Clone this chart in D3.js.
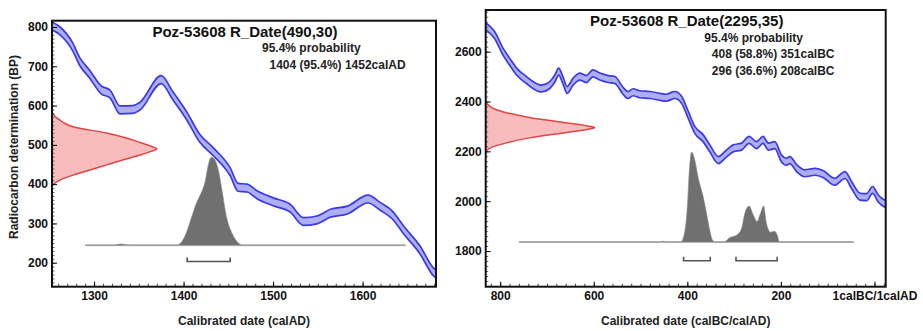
<!DOCTYPE html>
<html>
<head>
<meta charset="utf-8">
<script src="https://cdn.jsdelivr.net/npm/d3@7"></script>
<style>
  body { margin: 0; background: #fff; }
  svg { font-family: "Liberation Sans", Arial, sans-serif; }
  .tick text { font-size: 12px; font-weight: bold; fill: #111; }
</style>
</head>
<body>
<div id="chart"></div>
<script>
"use strict";

//---------------------------------------------------
/* data */

// calibration curve, [calendar year, BP]  (left: calAD)
const leftCurve = [[1253,803],[1262,790],[1276,750],[1284,712],[1295,680],[1308,640],[1318,629],[1329,589],[1343,590],[1351,598],[1375,666],[1388,625],[1404,572],[1418,517],[1433,483],[1452,432],[1461,392],[1471,390],[1482,373],[1500,355],[1519,339],[1534,305],[1549,309],[1564,326],[1583,334],[1606,362],[1620,343],[1633,322],[1646,283],[1664,233],[1679,177],[1683,169]];
const leftCurveErr = 10;

// right panel, year < 0 is calBC
const rightCurve = [[-831,2702],[-812,2667],[-794,2600],[-780,2560],[-765,2520],[-744,2486],[-730,2466],[-712,2452],[-694,2466],[-683,2493],[-675,2520],[-666,2486],[-657,2446],[-644,2480],[-630,2500],[-616,2490],[-602,2513],[-587,2500],[-569,2490],[-555,2486],[-537,2442],[-527,2426],[-516,2437],[-502,2429],[-480,2426],[-459,2419],[-445,2415],[-427,2426],[-412,2406],[-398,2346],[-384,2286],[-366,2252],[-352,2212],[-334,2165],[-316,2192],[-302,2212],[-284,2219],[-268,2246],[-252,2225],[-238,2246],[-227,2219],[-213,2225],[-199,2172],[-188,2158],[-181,2165],[-166,2132],[-149,2112],[-127,2118],[-110,2109],[-85,2078],[-63,2105],[-49,2065],[-31,2018],[-17,2016],[-4,2045],[8,2011],[24,1988]];
const rightCurveErr = 14;

// radiocarbon measurement (red), [BP, relative height]
const leftMeasure = [[396,0],[400,0.015],[411,0.08],[423,0.2],[436,0.36],[449,0.52],[462,0.68],[474,0.84],[484,0.95],[490,1],[496,0.95],[506,0.84],[518,0.7],[530,0.52],[546,0.2],[555,0.12],[563,0.076],[572,0.03],[584,0]];
const rightMeasure = [[2192,0],[2203,0.01],[2219,0.07],[2234,0.19],[2254,0.4],[2274,0.71],[2288,0.93],[2295,1],[2302,0.93],[2316,0.71],[2336,0.4],[2355,0.19],[2372,0.07],[2390,0.015],[2402,0]];

// calibrated distribution (grey), [year, relative height]
const leftPosterior = [[1290,0],[1320,0],[1330,0.015],[1340,0],[1392,0],[1398,0.04],[1403,0.14],[1409,0.32],[1414,0.47],[1419,0.58],[1424,0.72],[1428,0.93],[1431,1.0],[1435,0.97],[1439,0.85],[1443,0.62],[1448,0.32],[1454,0.14],[1460,0.04],[1466,0],[1648,0]];
const rightPosterior = [[-760,0],[-460,0],[-452,0.01],[-444,0],[-414,0],[-405,0.13],[-400,0.39],[-396,0.77],[-391,1.0],[-384,0.91],[-377,0.72],[-366,0.5],[-359,0.32],[-352,0.13],[-346,0.02],[-340,0],[-322,0],[-309,0.05],[-294,0.08],[-284,0.15],[-277,0.32],[-268,0.40],[-259,0.30],[-251,0.23],[-243,0.33],[-237,0.40],[-231,0.21],[-222,0.11],[-214,0.12],[-208,0.08],[-203,0],[-44,0]];

// 95.4% ranges
const leftRanges = [[1404,1452]];
const rightRanges = [[-408,-351],[-296,-208]];

// tick values
const leftXTicks = [1300,1400,1500,1600];
const leftYTicks = [200,300,400,500,600,700,800];
const rightXTicks = [-800,-600,-400,-200,0];
const rightYTicks = [1800,2000,2200,2400,2600];

// texts
const leftTitle = "Poz-53608 R_Date(490,30)";
const rightTitle = "Poz-53608 R_Date(2295,35)";
const leftProb = ["95.4% probability", "1404 (95.4%) 1452calAD"];
const rightProb = ["95.4% probability", "408 (58.8%) 351calBC", "296 (36.6%) 208calBC"];

//---------------------------------------------------
/* styles */
const w = 923;
const h = 331;
const blueStroke = "#3a3ae4";
const blueFill = "#aeaef3";
const redStroke = "#e04545";
const redFill = "#f9bcbc";
const greyFill = "#707070";

const svg = d3.select("#chart")
  .append("svg")
  .attr("width", w)
  .attr("height", h);

svg.append("rect").attr("width", w).attr("height", h).attr("fill", "#fff");

const panels = [
  {
    id: "l",
    box: {x0: 52, x1: 436, y0: 20.7, y1: 286.7},
    xDomain: [1253, 1682], yDomain: [139, 816],
    curve: leftCurve, err: leftCurveErr,
    measure: leftMeasure, measureWidth: 105,
    posterior: leftPosterior, postBase: 244.5, postHeight: 88,
    ranges: leftRanges, rangeBP: 203,
    xTicks: leftXTicks, xMinor: d3.range(1260, 1681, 10),
    yTicks: leftYTicks, yMinor: d3.range(140, 816, 10),
    xFormat: d => d,
    title: leftTitle, prob: leftProb, probX: 210,
    xLabel: "Calibrated date (calAD)"
  },
  {
    id: "r",
    box: {x0: 485.7, x1: 885.7, y0: 10, y1: 286.7},
    xDomain: [-831, 24], yDomain: [1657, 2767],
    curve: rightCurve, err: rightCurveErr,
    measure: rightMeasure, measureWidth: 109,
    posterior: rightPosterior, postBase: 1836, postHeight: 90,
    ranges: rightRanges, rangeBP: 1761,
    xTicks: rightXTicks, xMinor: d3.range(-820, 21, 20),
    yTicks: rightYTicks, yMinor: d3.range(1660, 2767, 20),
    xFormat: d => d === 0 ? "1calBC/1calAD" : Math.abs(d),
    title: rightTitle, prob: rightProb, probX: 218.6,
    xLabel: "Calibrated date (calBC/calAD)"
  }
];

panels.forEach(drawPanel);

// y axis title only on the left panel
svg.append("text")
  .attr("transform", "translate(17.5,147) rotate(-90)")
  .attr("text-anchor", "middle")
  .style("font-size", "12px")
  .style("font-weight", "bold")
  .style("fill", "#222")
  .text("Radiocarbon determination (BP)");

//---------------------------------------------------
function drawPanel(p) {
  const b = p.box;
  const xScale = d3.scaleLinear().domain(p.xDomain).range([b.x0, b.x1]);
  const yScale = d3.scaleLinear().domain(p.yDomain).range([b.y1, b.y0]);
  const measureScale = d3.scaleLinear().domain([0, 1]).range([b.x0, b.x0 + p.measureWidth]);
  const postScale = d3.scaleLinear().domain([0, 1]).range([yScale(p.postBase), yScale(p.postBase) - p.postHeight]);

  svg.append("clipPath")
    .attr("id", "clip-" + p.id)
    .append("rect")
    .attr("x", b.x0).attr("y", b.y0)
    .attr("width", b.x1 - b.x0).attr("height", b.y1 - b.y0);

  const g = svg.append("g").attr("clip-path", `url(#clip-${p.id})`);

  /* red measurement on the y axis */
  g.append("path")
    .datum(p.measure)
    .attr("d", d3.area()
      .curve(d3.curveMonotoneY)
      .y(d => yScale(d[0]))
      .x0(b.x0)
      .x1(d => measureScale(d[1])))
    .attr("fill", redFill);
  g.append("path")
    .datum(p.measure)
    .attr("d", d3.line()
      .curve(d3.curveMonotoneY)
      .y(d => yScale(d[0]))
      .x(d => measureScale(d[1])))
    .attr("fill", "none")
    .attr("stroke", redStroke)
    .attr("stroke-width", 1.5);

  /* grey baseline and calibrated distribution */
  const postExtent = d3.extent(p.posterior, d => d[0]);
  g.append("line")
    .attr("x1", xScale(postExtent[0])).attr("x2", xScale(postExtent[1]))
    .attr("y1", postScale(0)).attr("y2", postScale(0))
    .attr("stroke", "#cfcfcf")
    .attr("stroke-width", 2);
  g.append("path")
    .datum(p.posterior)
    .attr("d", d3.area()
      .curve(d3.curveMonotoneX)
      .x(d => xScale(d[0]))
      .y0(postScale(0))
      .y1(d => postScale(d[1])))
    .attr("fill", greyFill)
    .attr("stroke", "#8a8a8a")
    .attr("stroke-width", 0.6);

  /* range brackets */
  p.ranges.forEach(function(r) {
    const yb = yScale(p.rangeBP);
    g.append("path")
      .attr("d", `M${xScale(r[0])},${yb - 4}V${yb}H${xScale(r[1])}V${yb - 4}`)
      .attr("fill", "none")
      .attr("stroke", "#555")
      .attr("stroke-width", 1.6);
  });

  /* calibration band */
  const band = d3.area()
    .curve(d3.curveMonotoneX)
    .x(d => xScale(d[0]))
    .y0(d => yScale(d[1] - p.err))
    .y1(d => yScale(d[1] + p.err));
  g.append("path")
    .datum(p.curve)
    .attr("d", band)
    .attr("fill", blueFill);
  [-1, 1].forEach(function(s) {
    g.append("path")
      .datum(p.curve)
      .attr("d", d3.line()
        .curve(d3.curveMonotoneX)
        .x(d => xScale(d[0]))
        .y(d => yScale(d[1] + s * p.err)))
      .attr("fill", "none")
      .attr("stroke", blueStroke)
      .attr("stroke-width", 1.7);
  });

  /* axes, ticks pointing inward */
  svg.append("g")
    .attr("transform", `translate(0,${b.y1})`)
    .call(d3.axisBottom(xScale).tickValues(p.xMinor).tickFormat("").tickSizeInner(-3).tickSizeOuter(0))
    .call(a => a.select(".domain").remove())
    .selectAll("line").attr("stroke", "#444");
  svg.append("g")
    .attr("transform", `translate(0,${b.y1})`)
    .call(d3.axisBottom(xScale).tickValues(p.xTicks).tickFormat(p.xFormat).tickSizeInner(-5).tickSizeOuter(0).tickPadding(5))
    .call(a => a.select(".domain").remove());
  svg.append("g")
    .attr("transform", `translate(${b.x0},0)`)
    .call(d3.axisLeft(yScale).tickValues(p.yMinor).tickFormat("").tickSizeInner(-2.5).tickSizeOuter(0))
    .call(a => a.select(".domain").remove())
    .selectAll("line").attr("stroke", "#666");
  svg.append("g")
    .attr("transform", `translate(${b.x0},0)`)
    .call(d3.axisLeft(yScale).tickValues(p.yTicks).tickFormat(d3.format("d")).tickSizeInner(-5).tickSizeOuter(0).tickPadding(4))
    .call(a => a.select(".domain").remove());

  /* frame */
  svg.append("rect")
    .attr("x", b.x0).attr("y", b.y0)
    .attr("width", b.x1 - b.x0).attr("height", b.y1 - b.y0)
    .attr("fill", "none")
    .attr("stroke", "#111")
    .attr("stroke-width", 2);

  /* texts */
  svg.append("text")
    .attr("x", (b.x0 + b.x1) / 2 + 1)
    .attr("y", b.y0 + 16)
    .attr("text-anchor", "middle")
    .style("font-size", "15px")
    .style("font-weight", "bold")
    .style("fill", "#111")
    .text(p.title);

  p.prob.forEach(function(t, i) {
    svg.append("text")
      .attr("x", b.x0 + p.probX + (i > 0 ? 7.5 : 0))
      .attr("y", b.y0 + 31.5 + i * 16.7)
      .style("font-size", "12px")
      .style("font-weight", "bold")
      .style("fill", "#222")
      .text(t);
  });

  svg.append("text")
    .attr("x", (b.x0 + b.x1) / 2)
    .attr("y", 325)
    .attr("text-anchor", "middle")
    .style("font-size", "12px")
    .style("font-weight", "bold")
    .style("fill", "#222")
    .text(p.xLabel);
}
</script>
</body>
</html>
